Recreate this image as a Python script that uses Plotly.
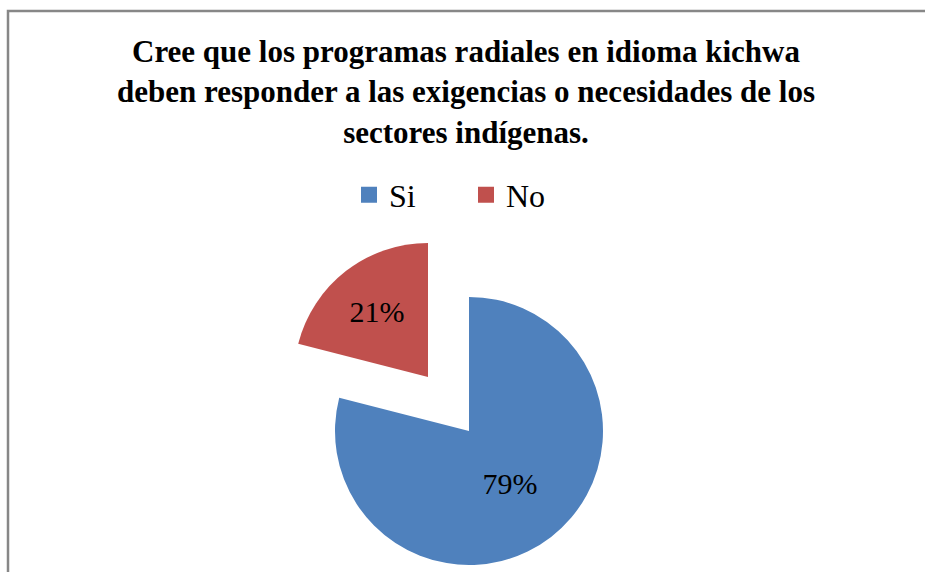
import plotly.graph_objects as go

# ---- data ----
labels = ["Si", "No"]
values = [79, 21]
title_lines = [
    "Cree que los programas radiales en idioma kichwa",
    "deben responder a las exigencias o necesidades de los",
    "sectores indígenas.",
]

# ---- style ----
W, H = 925, 572
BLUE = "#4F81BD"
RED = "#C0504D"
CLEAR = "rgba(0,0,0,0)"
SERIF = "Liberation Serif, Times New Roman, serif"
R = 134


def dom(cx, cy, r):
    return dict(x=[(cx - r) / W, (cx + r) / W],
                y=[(H - (cy + r)) / H, (H - (cy - r)) / H])


fig = go.Figure()

# main pie (Si slice)
fig.add_trace(go.Pie(
    labels=labels, values=values, sort=False, direction="clockwise", rotation=0,
    marker=dict(colors=[BLUE, CLEAR], line=dict(width=0)),
    texttemplate=["%{percent:.0%}", ""], textposition="inside",
    insidetextorientation="horizontal",
    textfont=dict(family=SERIF, size=30, color="black"),
    domain=dom(469, 431, R), showlegend=False, hoverinfo="skip",
))
# exploded slice (No)
fig.add_trace(go.Pie(
    labels=labels, values=values, sort=False, direction="clockwise", rotation=0,
    marker=dict(colors=[CLEAR, RED], line=dict(width=0)),
    texttemplate=["", "%{percent:.0%}"], textposition="inside",
    insidetextorientation="horizontal",
    textfont=dict(family=SERIF, size=30, color="black"),
    domain=dom(428, 377, R), showlegend=False, hoverinfo="skip",
))

# legend entries
for lab, col in zip(labels, [BLUE, RED]):
    fig.add_trace(go.Scatter(
        x=[None], y=[None], mode="markers", name=lab,
        marker=dict(symbol="square", size=17, color=col),
    ))

fig.update_layout(
    width=W, height=H, autosize=False,
    margin=dict(l=0, r=0, t=0, b=0),
    paper_bgcolor="white", plot_bgcolor="white",
    xaxis=dict(visible=False), yaxis=dict(visible=False),
    title=dict(
        text="<br>".join(title_lines),
        x=466 / W, xanchor="center", xref="paper",
        y=1 - 62 / H, yanchor="top", yref="container",
        font=dict(family=SERIF, size=31, color="black", weight="bold"),
    ),
    legend=dict(
        orientation="h", x=466 / W, xanchor="center",
        y=(H - 195) / H, yanchor="middle",
        font=dict(family=SERIF, size=32, color="black"),
        bgcolor="rgba(0,0,0,0)", entrywidth=72,
    ),
    shapes=[dict(
        type="rect", xref="paper", yref="paper",
        x0=8 / W, x1=1.05, y0=-0.05, y1=(H - 11) / H,
        line=dict(color="#878787", width=2.5), fillcolor="rgba(0,0,0,0)",
        layer="below",
    )],
)

fig.write_html("out.html")
